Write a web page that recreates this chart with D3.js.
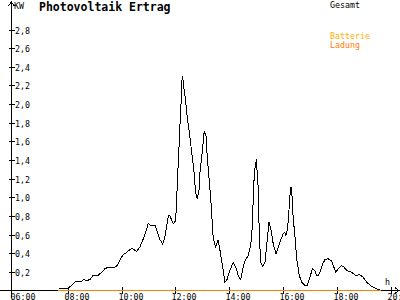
<!DOCTYPE html>
<html>
<head>
<meta charset="utf-8">
<script src="https://cdn.jsdelivr.net/npm/d3@7"></script>
<style>
  body { margin: 0; background: #fff; }
  svg { display: block; }
  text { font-family: "DejaVu Sans Mono", monospace; }
</style>
</head>
<body>
<svg width="400" height="300"></svg>
<script>
// Gesamt (kW) über Uhrzeit (Stunden)
const gesamtHours = [7.68, 8.02, 8.08, 8.30, 8.52, 8.58, 8.73, 8.83, 8.93, 9.13, 9.26, 9.38, 9.51, 9.75, 9.84, 9.94,
  10.06, 10.19, 10.38, 10.56, 10.68, 10.81, 10.90, 10.99, 11.06, 11.24, 11.30, 11.43, 11.53, 11.61, 11.74, 11.80, 11.92,
  12.01, 12.05, 12.07, 12.13, 12.17, 12.21, 12.23, 12.26, 12.29, 12.33, 12.38, 12.44, 12.51, 12.57, 12.63, 12.69, 12.75,
  12.81, 12.89, 12.91, 12.98, 13.04, 13.07, 13.14, 13.16, 13.22, 13.29, 13.32, 13.41, 13.50, 13.59, 13.66, 13.76, 13.84,
  13.91, 14.00, 14.15, 14.25, 14.34, 14.43, 14.52, 14.59, 14.71, 14.77, 14.84, 14.93, 14.97, 15.02, 15.04, 15.08, 15.10,
  15.14, 15.17, 15.25, 15.33, 15.39, 15.48, 15.55, 15.64, 15.74, 15.83, 15.91, 16.01, 16.07, 16.11, 16.16, 16.20, 16.26,
  16.30, 16.33, 16.38, 16.45, 16.51, 16.61, 16.70, 16.82, 16.90, 17.00, 17.10, 17.19, 17.25, 17.31, 17.40, 17.48, 17.56,
  17.68, 17.81, 17.87, 17.97, 18.06, 18.18, 18.27, 18.37, 18.55, 18.71, 18.84, 18.96, 19.11, 19.30, 19.48, 19.61];
const gesamtKW = [0.02, 0.02, 0.04, 0.10, 0.10, 0.115, 0.107, 0.12, 0.158, 0.164, 0.196, 0.233, 0.25, 0.25, 0.268, 0.33,
  0.383, 0.41, 0.454, 0.42, 0.465, 0.555, 0.625, 0.72, 0.70, 0.70, 0.65, 0.544, 0.50, 0.57, 0.80, 0.80, 0.716,
  0.75, 0.966, 1.145, 1.50, 1.77, 2.00, 2.20, 2.296, 2.25, 2.146, 2.04, 1.86, 1.72, 1.574, 1.43, 1.29, 1.055,
  0.984, 1.09, 1.25, 1.43, 1.61, 1.706, 1.66, 1.54, 1.32, 1.07, 0.966, 0.555, 0.465, 0.544, 0.43, 0.25, 0.09,
  0.107, 0.196, 0.30, 0.25, 0.16, 0.118, 0.25, 0.32, 0.375, 0.447, 0.57, 1.216, 1.34, 1.413, 1.27, 1.11, 0.80,
  0.50, 0.30, 0.257, 0.30, 0.465, 0.733, 0.66, 0.50, 0.394, 0.465, 0.536, 0.608, 0.626, 0.59, 0.644, 0.75, 1.02,
  1.11, 1.055, 0.787, 0.57, 0.34, 0.16, 0.09, 0.054, 0.054, 0.143, 0.233, 0.215, 0.16, 0.16, 0.215, 0.286, 0.33,
  0.34, 0.315, 0.268, 0.196, 0.233, 0.268, 0.25, 0.215, 0.196, 0.16, 0.17, 0.15, 0.09, 0.043, 0.018, 0.008];

// Batterie Ladung (kW)
const ladungHours = [7.65, 19.65];
const ladungKW = [0, 0];

const yTicks = [0.2, 0.4, 0.6, 0.8, 1.0, 1.2, 1.4, 1.6, 1.8, 2.0, 2.2, 2.4, 2.6, 2.8];
const xTicks = [6, 8, 10, 12, 14, 16, 18, 20];
const xTickLabels = ["06:00", "08:00", "10:00", "12:00", "14:00", "16:00", "18:00", "20:"];

const svg = d3.select("svg");
const axisX = 11.5;
const baseY = 290.5;

const x = d3.scaleLinear().domain([6, 20]).range([14, 390.5]);
const y = d3.scaleLinear().domain([0, 2.8]).range([baseY, 29.5]);

const g = svg.append("g").attr("shape-rendering", "crispEdges");

// y-axis with arrow
g.append("line").attr("x1", axisX).attr("x2", axisX).attr("y1", 2).attr("y2", 298).attr("stroke", "#000");
g.append("path").attr("d", `M${axisX - 3},6L${axisX},2L${axisX + 3},6`).attr("fill", "none").attr("stroke", "#000");

// x-axis with arrow
g.append("line").attr("x1", 0).attr("x2", 399).attr("y1", baseY).attr("y2", baseY).attr("stroke", "#000");
g.append("path").attr("d", `M395,${baseY - 3}L399,${baseY}L395,${baseY + 3}`).attr("fill", "none").attr("stroke", "#000");

// y ticks
yTicks.forEach(v => {
  g.append("line")
    .attr("x1", axisX - 3).attr("x2", axisX + 3)
    .attr("y1", Math.round(y(v)) + 0.5).attr("y2", Math.round(y(v)) + 0.5)
    .attr("stroke", "#000");
  svg.append("text")
    .attr("x", 15).attr("y", Math.round(y(v)) + 3.5)
    .attr("font-size", 8.3)
    .text(d3.format(".1f")(v).replace(".", ","));
});

// x ticks
xTicks.forEach((h, i) => {
  const px = Math.round(x(h)) + 0.5;
  if (i > 0) {
    g.append("line").attr("x1", px).attr("x2", px).attr("y1", 287).attr("y2", 294).attr("stroke", "#000");
  }
  svg.append("text")
    .attr("x", px - 4).attr("y", 299.5)
    .attr("font-size", 8.3)
    .text(xTickLabels[i]);
});

// series
const line = d3.line().x(d => x(d[0])).y(d => y(d[1]));

g.append("path")
  .datum(ladungHours.map((h, i) => [h, ladungKW[i]]))
  .attr("d", line)
  .attr("fill", "none")
  .attr("stroke", "#ff8000")
  .attr("stroke-width", 1.2);

g.append("path")
  .datum(gesamtHours.map((h, i) => [h, gesamtKW[i]]))
  .attr("d", line)
  .attr("fill", "none")
  .attr("stroke", "#000")
  .attr("stroke-width", 1);

// texts
svg.append("text").attr("x", 14).attr("y", 8.5).attr("font-size", 8.3).text("KW");
svg.append("text").attr("x", 385).attr("y", 285).attr("font-size", 8.3).text("h");
svg.append("text").attr("x", 39).attr("y", 11).attr("font-size", 11.5).attr("font-weight", "bold").text("Photovoltaik Ertrag");
svg.append("text").attr("x", 330).attr("y", 7.5).attr("font-size", 8.3).text("Gesamt");
svg.append("text").attr("x", 330).attr("y", 38.5).attr("font-size", 8.3).attr("fill", "#ffb000").text("Batterie");
svg.append("text").attr("x", 330).attr("y", 47.5).attr("font-size", 8.3).attr("fill", "#ff8000").text("Ladung");
</script>
</body>
</html>
